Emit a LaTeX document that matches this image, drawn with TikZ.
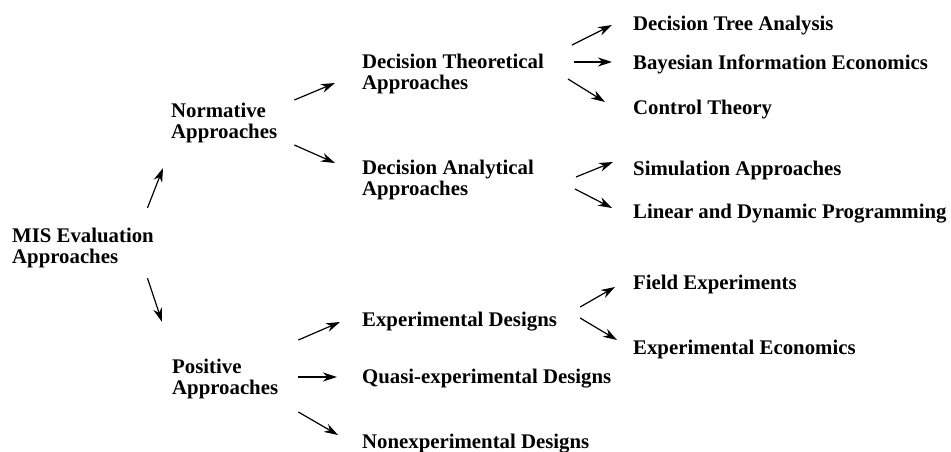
\documentclass[tikz,border=0pt]{standalone}
\usepackage{fontspec}
\setmainfont{Liberation Serif}
\usetikzlibrary{arrows.meta}

\begin{document}
\begin{tikzpicture}[x=1pt, y=-1pt,
  every node/.style = {anchor=west, align=left, inner sep=0pt,
    font=\bfseries\fontsize{20.8}{21}\selectfont},
  arr/.style = {line width=1.2pt, -{Stealth[length=14pt, width=9pt, inset=4.5pt]}}]
  \useasboundingbox (0,0) rectangle (951,452);
  % levels, left to right
  \node (mis)     at (12,248)  {MIS Evaluation\\Approaches};
  \node (norm)    at (171,123) {Normative\\Approaches};
  \node (pos)     at (172,379) {Positive\\Approaches};
  \node (dt)      at (362,74)  {Decision Theoretical\\Approaches};
  \node (da)      at (362,180) {Decision Analytical\\Approaches};
  \node (expd)    at (362,322) {Experimental Designs};
  \node (quasi)   at (362,379) {Quasi-experimental Designs};
  \node (nonexp)  at (362,444) {Nonexperimental Designs};
  \node (dtree)   at (633,26)  {Decision Tree Analysis};
  \node (bayes)   at (633,64)  {Bayesian Information Economics};
  \node (ctrl)    at (633,110) {Control Theory};
  \node (sim)     at (633,170) {Simulation Approaches};
  \node (lin)     at (633,214) {Linear and Dynamic Programming};
  \node (field)   at (633,284) {Field Experiments};
  \node (expecon) at (633,349) {Experimental Economics};
  % arrows
  \draw[arr] ([shift={(-6.5,-20)}]mis.north east) -- ([shift={(-8,25)}]norm.south west);
  \draw[arr] ([shift={(-6.5,10)}]mis.south east) -- ([shift={(-10,-37)}]pos.north west);
  \draw[arr] ([shift={(17,-23)}]norm.east) -- ([shift={(-27,9)}]dt.west);
  \draw[arr] ([shift={(17,22)}]norm.east) -- ([shift={(-27,-17)}]da.west);
  \draw[arr] ([shift={(28,-29)}]dt.east) -- ([shift={(-21,-1)}]dtree.west);
  \draw[arr] ([shift={(30,-12)}]dt.east) -- ([shift={(-21,-2)}]bayes.west);
  \draw[arr] ([shift={(24,5)}]dt.east) -- ([shift={(-28,-8)}]ctrl.west);
  \draw[arr] ([shift={(42,-3)}]da.east) -- ([shift={(-20,-8)}]sim.west);
  \draw[arr] ([shift={(41,9)}]da.east) -- ([shift={(-21,-6)}]lin.west);
  \draw[arr] ([shift={(20,-39)}]pos.east) -- ([shift={(-22,0)}]expd.west);
  \draw[arr] ([shift={(20,-2)}]pos.east) -- ([shift={(-25,-2)}]quasi.west);
  \draw[arr] ([shift={(20,33)}]pos.east) -- ([shift={(-24,-9)}]nonexp.west);
  \draw[arr] ([shift={(23,-15)}]expd.east) -- ([shift={(-18,3)}]field.west);
  \draw[arr] ([shift={(23,-4)}]expd.east) -- ([shift={(-16,-9)}]expecon.west);
\end{tikzpicture}
\end{document}
